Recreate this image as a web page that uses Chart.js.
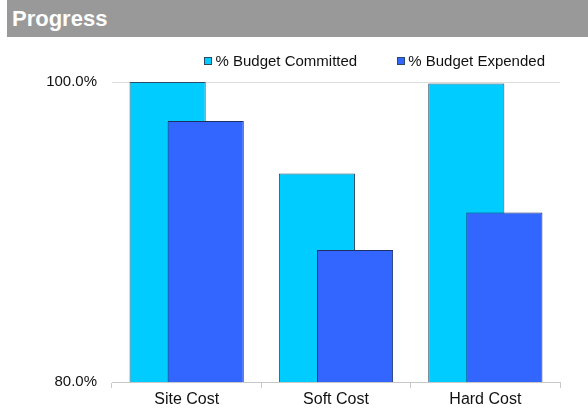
<!DOCTYPE html>
<html>
<head>
<meta charset="utf-8">
<script src="https://cdn.jsdelivr.net/npm/chart.js@4/dist/chart.umd.min.js"></script>
<style>
    html, body { margin: 0; padding: 0; background: #fff; }
    #wrap { position: relative; width: 588px; height: 410px; font-family: "Liberation Sans", Arial, sans-serif; }
    #header {
        position: absolute; left: 7px; top: 0; width: 581px; height: 37px;
        background: #999; color: #fff;
        font-weight: bold; font-size: 22px;
        line-height: 38px; padding-left: 5px; box-sizing: border-box;
    }
    #legend {
        position: absolute; right: 43px; top: 52px;
        display: flex; gap: 40px; font-size: 15px; color: #111; line-height: 18px;
    }
    #legend .item { display: flex; align-items: center; }
    #legend .box { width: 6px; height: 6px; border: 1px solid #2b4a66; margin-right: 3px; }
    #chart { position: absolute; left: 0; top: 0; }
</style>
</head>
<body>
<div id="wrap">
    <canvas id="chart" width="588" height="410"></canvas>
    <div id="header">Progress</div>
    <div id="legend"></div>
</div>
<script>
const categories = ['Site Cost', 'Soft Cost', 'Hard Cost']
const seriesNames = ['% Budget Committed', '% Budget Expended']
const seriesColors = ['#00ccff', '#3366ff']
const committed = [100, 93.9, 99.9]
const expended = [97.4, 88.8, 91.3]
const yTicks = [80, 100]

const fontFamily = '"Liberation Sans", Arial, sans-serif'

// draw datasets in index order so the second bar sits on top of the first
const drawInOrder = {
    id: 'drawInOrder',
    beforeDatasetsDraw(chart) {
        const area = chart.chartArea
        const ctx = chart.ctx
        ctx.save()
        ctx.beginPath()
        ctx.rect(area.left, area.top - 2, area.right - area.left, area.bottom - area.top + 2)
        ctx.clip()
        for (const meta of chart.getSortedVisibleDatasetMetas()) {
            meta.controller.draw()
        }
        ctx.restore()
        return false
    }
}

const chartOptions = {
    type: 'bar',
    data: {
        labels: categories,
        datasets: [
            {
                label: seriesNames[0],
                data: committed,
                backgroundColor: seriesColors[0],
                borderColor: '#2b4a66',
                borderWidth: 1,
                borderSkipped: 'bottom'
            },
            {
                label: seriesNames[1],
                data: expended,
                backgroundColor: seriesColors[1],
                borderColor: '#1c2f66',
                borderWidth: 1,
                borderSkipped: 'bottom'
            }
        ]
    },
    options: {
        responsive: false,
        animation: false,
        devicePixelRatio: 1,
        categoryPercentage: 0.51,
        barPercentage: 2,
        layout: { padding: { top: 82, right: 28, left: 0, bottom: 0 } },
        plugins: {
            legend: { display: false },
            tooltip: { enabled: false }
        },
        scales: {
            x: {
                grid: { drawOnChartArea: false, drawTicks: true, tickLength: 6, color: '#c8c8c8' },
                border: { color: '#c8c8c8' },
                ticks: { font: { family: fontFamily, size: 16 }, color: '#111', padding: 2 },
                afterFit: scale => { scale.height = 28 }
            },
            y: {
                min: 80,
                max: 100,
                afterBuildTicks: scale => { scale.ticks = yTicks.map(v => ({ value: v })) },
                grid: { drawTicks: false, color: '#dcdcdc' },
                border: { display: false },
                ticks: {
                    font: { family: fontFamily, size: 15 },
                    color: '#111',
                    padding: 15,
                    callback: v => v.toFixed(1) + '%'
                },
                afterFit: scale => { scale.width = 112 }
            }
        }
    },
    plugins: [drawInOrder]
}

const chart = new Chart(document.getElementById('chart'), chartOptions)

let html = ''
chart.data.datasets.forEach(ds => {
    html += `<div class="item"><span class="box" style="background:${ds.backgroundColor}"></span>${ds.label}</div>`
})
document.getElementById('legend').innerHTML = html
</script>
</body>
</html>
